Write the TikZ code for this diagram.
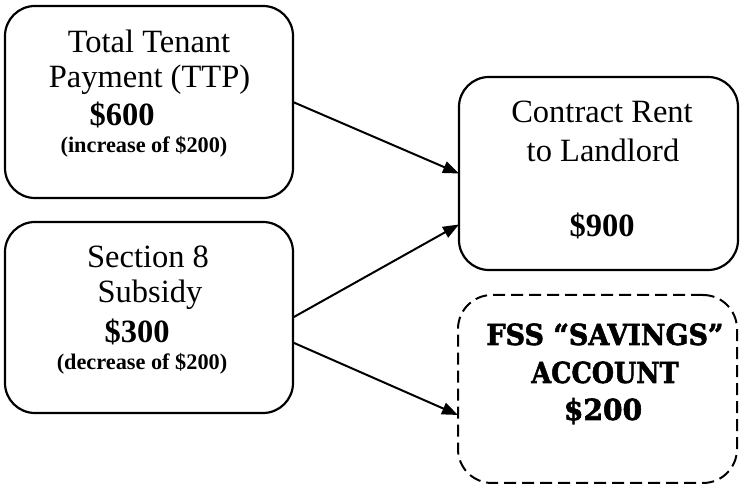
\documentclass[tikz,border=0pt]{standalone}
\usepackage{fontspec}
\usepackage{graphicx}
\setmainfont{Liberation Serif}
\newfontfamily\heavyfont[FakeBold=2]{DejaVu Serif}
\usetikzlibrary{arrows.meta}
\tikzset{
  box/.style={draw=black, line width=2.2pt, rounded corners=30pt, inner sep=0pt, outer sep=0pt},
  dbox/.style={box, line width=2pt, dash pattern=on 12pt off 6pt, rounded corners=34pt},
  big/.style={anchor=base, inner sep=0pt, font=\fontsize{32.5}{36}\selectfont},
  amt/.style={anchor=base, inner sep=0pt, font=\fontsize{32.5}{36}\selectfont\bfseries},
  small/.style={anchor=base, inner sep=0pt, font=\fontsize{22.3}{25}\selectfont\bfseries},
  heavy/.style={anchor=base, inner sep=0pt, font=\fontsize{29}{33}\selectfont\heavyfont\bfseries},
  conn/.style={line width=2pt, -{Triangle[length=16pt,width=12pt]}}
}
\begin{document}
\begin{tikzpicture}[x=1pt,y=1pt]
\useasboundingbox (0,0) rectangle (740,486);
% boxes
\node[box, minimum width=288pt, minimum height=192pt] (b1) at (149,384) {};
\node[box, minimum width=288pt, minimum height=191pt] (b2) at (149,168.5) {};
\node[box, minimum width=279pt, minimum height=193pt] (b3) at (598.5,312.5) {};
\node[dbox, minimum width=279pt, minimum height=188pt] (b4) at (597.5,97) {};
% texts box 1
\node[big] (t1a) at (149,433) {Total Tenant};
\node[big] (t1b) at (149.5,398) {Payment (TTP)};
\node[amt] (t1c) at (122,360) {\$600};
\node[small] (t1d) at (144,333.5) {(increase of \$200)};
% texts box 2
\node[big] (t2a) at (148,218) {Section 8};
\node[big] (t2b) at (150,183) {Subsidy};
\node[amt] (t2c) at (137,143) {\$300};
\node[small] (t2d) at (142,116) {(decrease of \$200)};
% texts box 3
\node[big] (t3a) at (602,363) {Contract Rent};
\node[big] (t3b) at (603,324) {to Landlord};
\node[amt] (t3c) at (602,249) {\$900};
% texts box 4
\node[heavy] (t4a) at (605,141) {\scalebox{0.93}[1]{FSS “SAVINGS”}};
\node[heavy] (t4b) at (605,103) {\scalebox{0.88}[1]{ACCOUNT}};
\node[heavy] (t4c) at (603,66) {\scalebox{0.97}[1]{\$200}};
% connectors
\draw[conn] (b1.east) -- (b3.west);
\draw[conn] (b2.east) -- ([yshift=-51pt]b3.west);
\draw[conn] ([yshift=-25pt]b2.east) -- ([yshift=-26pt]b4.west);
\end{tikzpicture}
\end{document}
